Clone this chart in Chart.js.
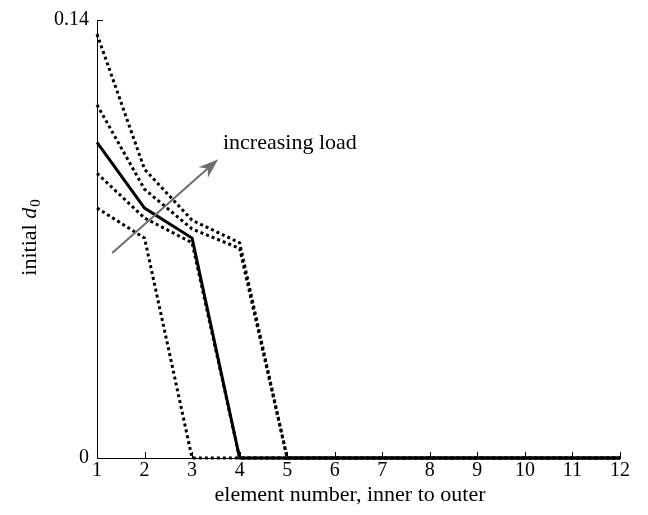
<!DOCTYPE html>
<html>
<head>
<meta charset="utf-8">
<script src="https://cdn.jsdelivr.net/npm/chart.js@4.4.0/dist/chart.umd.min.js"></script>
<style>
  html, body { margin: 0; padding: 0; background: #fff; }
  canvas { display: block; }
</style>
</head>
<body>
<canvas id="grafico" width="648" height="515"></canvas>
<script>
// element numbers, inner to outer
const elementos = [1, 2, 3, 4, 5, 6, 7, 8, 9, 10, 11, 12];

// initial d0 for each load case (dotted = other loads, solid = reference)
const cargaA = [0.1355, 0.0923, 0.0760, 0.0688, 0, 0, 0, 0, 0, 0, 0, 0];
const cargaB = [0.1129, 0.0859, 0.0732, 0.0670, 0, 0, 0, 0, 0, 0, 0, 0];
const cargaRef = [0.1009, 0.0799, 0.0703, 0, 0, 0, 0, 0, 0, 0, 0, 0];
const cargaD = [0.0910, 0.0767, 0.0688, 0, 0, 0, 0, 0, 0, 0, 0, 0];
const cargaE = [0.0799, 0.0703, 0, 0, 0, 0, 0, 0, 0, 0, 0, 0];

const yTicks = [0, 0.14];
const yTickLabels = ['0', '0.14'];

// arrow annotation in data units
const setaInicio = [1.32, 0.0655];
const setaFim = [3.55, 0.0955];
const setaTexto = 'increasing load';
const setaTextoPos = [3.65, 0.0988];

const fonte = '"Liberation Serif", "DejaVu Serif", serif';

function serie(valores, pontilhado) {
    return {
        data: elementos.map((x, i) => ({ x: x, y: valores[i] })),
        borderColor: '#000',
        borderWidth: 3,
        borderDash: pontilhado ? [3, 3] : [],
        borderCapStyle: 'butt',
        borderJoinStyle: 'miter',
        pointRadius: 0,
        tension: 0,
        fill: false,
        clip: false
    };
}

// inward ticks, axis titles and the arrow
const extras = {
    id: 'extras',
    afterDraw(chart) {
        const ctx = chart.ctx;
        const xs = chart.scales.x;
        const ys = chart.scales.y;
        const area = chart.chartArea;
        ctx.save();

        ctx.strokeStyle = '#000';
        ctx.lineWidth = 1;
        ctx.beginPath();
        elementos.forEach(v => {
            const px = Math.round(xs.getPixelForValue(v)) + 0.5;
            ctx.moveTo(px, area.bottom);
            ctx.lineTo(px, area.bottom - 6);
        });
        yTicks.forEach(v => {
            const py = Math.round(ys.getPixelForValue(v)) + 0.5;
            ctx.moveTo(area.left, py);
            ctx.lineTo(area.left + 6, py);
        });
        ctx.stroke();

        // x title
        ctx.fillStyle = '#000';
        ctx.font = '22px ' + fonte;
        ctx.textAlign = 'center';
        ctx.textBaseline = 'alphabetic';
        ctx.fillText('element number, inner to outer', 350, 501);

        // y title: initial d0 (italic d, subscript 0)
        ctx.translate(30, 238);
        ctx.rotate(-Math.PI / 2);
        ctx.textBaseline = 'alphabetic';
        ctx.textAlign = 'left';
        const t1 = 'initial ';
        ctx.font = '22px ' + fonte;
        const w1 = ctx.measureText(t1).width;
        ctx.font = 'italic 22px ' + fonte;
        const w2 = ctx.measureText('d').width;
        ctx.font = '15px ' + fonte;
        const w3 = ctx.measureText('0').width;
        let x0 = -(w1 + w2 + w3) / 2;
        ctx.font = '22px ' + fonte;
        ctx.fillText(t1, x0, 6);
        ctx.font = 'italic 22px ' + fonte;
        ctx.fillText('d', x0 + w1, 6);
        ctx.font = '15px ' + fonte;
        ctx.fillText('0', x0 + w1 + w2 + 1, 10);
        ctx.setTransform(1, 0, 0, 1, 0, 0);

        // arrow
        const ax = xs.getPixelForValue(setaInicio[0]);
        const ay = ys.getPixelForValue(setaInicio[1]);
        const bx = xs.getPixelForValue(setaFim[0]);
        const by = ys.getPixelForValue(setaFim[1]);
        const ang = Math.atan2(by - ay, bx - ax);
        const cor = '#6e6e6e';
        ctx.strokeStyle = cor;
        ctx.fillStyle = cor;
        ctx.lineWidth = 2;
        ctx.beginPath();
        ctx.moveTo(ax, ay);
        ctx.lineTo(bx - 10 * Math.cos(ang), by - 10 * Math.sin(ang));
        ctx.stroke();
        ctx.translate(bx, by);
        ctx.rotate(ang);
        ctx.beginPath();
        ctx.moveTo(0, 0);
        ctx.lineTo(-20, -7);
        ctx.lineTo(-14, 0);
        ctx.lineTo(-20, 7);
        ctx.closePath();
        ctx.fill();
        ctx.setTransform(1, 0, 0, 1, 0, 0);

        ctx.fillStyle = '#000';
        ctx.font = '22px ' + fonte;
        ctx.textAlign = 'left';
        ctx.textBaseline = 'alphabetic';
        ctx.fillText(setaTexto, xs.getPixelForValue(setaTextoPos[0]), ys.getPixelForValue(setaTextoPos[1]));

        ctx.restore();
    }
};

const ctx = document.getElementById('grafico').getContext('2d');
new Chart(ctx, {
    type: 'line',
    data: {
        datasets: [
            serie(cargaA, true),
            serie(cargaB, true),
            serie(cargaD, true),
            serie(cargaE, true),
            serie(cargaRef, false)
        ]
    },
    options: {
        responsive: false,
        animation: false,
        maintainAspectRatio: false,
        layout: { padding: { left: 0, top: 18, right: 28, bottom: 0 } },
        plugins: {
            legend: { display: false },
            tooltip: { enabled: false }
        },
        scales: {
            x: {
                type: 'linear',
                min: 1,
                max: 12,
                grid: { display: false, drawTicks: false },
                border: { display: true, color: '#000', width: 1 },
                ticks: {
                    stepSize: 1,
                    autoSkip: false,
                    maxRotation: 0,
                    padding: 1,
                    color: '#000',
                    font: { family: fonte, size: 20 }
                },
                afterFit(scale) { scale.height = 57; }
            },
            y: {
                min: 0,
                max: 0.14,
                grid: { display: false, drawTicks: false },
                border: { display: true, color: '#000', width: 1 },
                afterBuildTicks(scale) {
                    scale.ticks = yTicks.map(v => ({ value: v }));
                },
                ticks: {
                    padding: 8,
                    color: '#000',
                    font: { family: fonte, size: 20 },
                    callback: function (v) {
                        const i = yTicks.indexOf(v);
                        return i >= 0 ? yTickLabels[i] : '';
                    }
                },
                afterFit(scale) { scale.width = 97; }
            }
        }
    },
    plugins: [extras]
});
</script>
</body>
</html>
